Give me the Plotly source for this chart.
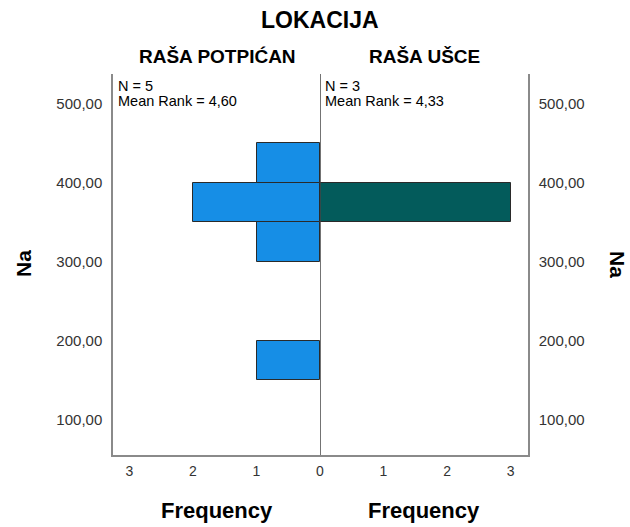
import plotly.graph_objects as go

# ---- data ----
title_text = "LOKACIJA"
group_names = ["RAŠA POTPIĆAN", "RAŠA UŠCE"]
group_n = [5, 3]
group_mean_rank = ["4,60", "4,33"]

bin_centers_potpican = [175, 325, 375, 425]
freq_potpican = [1, 1, 2, 1]
bin_centers_usce = [375]
freq_usce = [3]
bin_width = 50

y_tickvals = [100, 200, 300, 400, 500]
y_ticktext = ["100,00", "200,00", "300,00", "400,00", "500,00"]
x_tickvals_left = [0, 1, 2, 3]
x_ticktext_left = ["0", "1", "2", "3"]
x_tickvals_right = [1, 2, 3]
x_ticktext_right = ["1", "2", "3"]
y_title = "Na"
x_title = "Frequency"

FONT = "Liberation Sans, Arial, sans-serif"
COL_LEFT = "#168EE6"
COL_RIGHT = "#035B5B"
EDGE = "#2a2a2a"
AXCOL = "#8a8a8a"

fig = go.Figure()
fig.add_trace(go.Bar(
    x=freq_potpican, y=bin_centers_potpican, width=[bin_width] * len(freq_potpican),
    orientation="h", xaxis="x", yaxis="y",
    marker=dict(color=COL_LEFT, line=dict(color=EDGE, width=1)),
    showlegend=False, hoverinfo="skip"))
fig.add_trace(go.Bar(
    x=freq_usce, y=bin_centers_usce, width=[bin_width] * len(freq_usce),
    orientation="h", xaxis="x2", yaxis="y2",
    marker=dict(color=COL_RIGHT, line=dict(color=EDGE, width=1)),
    showlegend=False, hoverinfo="skip"))

yrange = [55, 537.5]
tickfont = dict(family=FONT, size=15, color="#333333")
xtickfont = dict(family=FONT, size=14, color="#333333")
d = 0.4988

fig.update_layout(
    width=630, height=527,
    margin=dict(l=113, r=102, t=74, b=72, pad=0),
    paper_bgcolor="white", plot_bgcolor="white",
    font=dict(family=FONT),
    bargap=0,
    xaxis=dict(domain=[0, d], range=[3.26, 0], tickvals=x_tickvals_left, ticktext=x_ticktext_left,
               showgrid=False, zeroline=False, showline=True, linecolor=AXCOL, linewidth=1.5,
               ticks="", ticklabelstandoff=2, tickfont=xtickfont, fixedrange=True),
    xaxis2=dict(domain=[d, 1], range=[0, 3.275], tickvals=x_tickvals_right, ticktext=x_ticktext_right,
                showgrid=False, zeroline=False, showline=True, linecolor=AXCOL, linewidth=1.5,
                ticks="", ticklabelstandoff=2, tickfont=xtickfont, anchor="y2", fixedrange=True),
    yaxis=dict(range=yrange, tickvals=y_tickvals, ticktext=y_ticktext, showgrid=False,
               zeroline=False, showline=True, linecolor=AXCOL, linewidth=1.5, ticks="",
               ticklabelstandoff=6, tickfont=tickfont, side="left", anchor="x"),
    yaxis2=dict(range=yrange, tickvals=y_tickvals, ticktext=y_ticktext, showgrid=False,
                zeroline=False, showline=True, linecolor=AXCOL, linewidth=1.5, ticks="",
                ticklabelstandoff=6, tickfont=tickfont, side="right", anchor="x2",
                matches="y"),
)

# center divider at frequency 0
fig.add_shape(type="line", xref="x2", yref="paper", x0=0, x1=0, y0=0, y1=1,
              line=dict(color="#444444", width=1.5))

ann = []
def P(px, py):
    return (px - 113) / 415, (455 - py) / 381

x, y = P(320, 20)
ann.append(dict(text="<b>%s</b>" % title_text, x=x, y=y, font=dict(size=23, color="black")))
for cx, name in zip([217, 424], group_names):
    x, y = P(cx, 57)
    ann.append(dict(text="<b>%s</b>" % name, x=x, y=y, font=dict(size=19, color="black")))
    x, y = P(cx, 510)
    ann.append(dict(text="<b>%s</b>" % x_title, x=x, y=y, font=dict(size=22, color="black")))
for lx, n, mr in zip([116, 323], group_n, group_mean_rank):
    x, y = P(lx, 86)
    ann.append(dict(text="N = %d" % n, x=x, y=y, xanchor="left",
                    font=dict(size=14.5, color="black")))
    x, y = P(lx, 101)
    ann.append(dict(text="Mean Rank = %s" % mr, x=x, y=y, xanchor="left",
                    font=dict(size=14.5, color="black")))
x, y = P(23, 264)
ann.append(dict(text="<b>%s</b>" % y_title, x=x, y=y, textangle=-90,
                font=dict(size=21, color="black")))
x, y = P(618, 264)
ann.append(dict(text="<b>%s</b>" % y_title, x=x, y=y, textangle=90,
                font=dict(size=21, color="black")))

for a in ann:
    a.setdefault("xanchor", "center")
    a.update(xref="paper", yref="paper", yanchor="middle", showarrow=False)
    a["font"]["family"] = FONT
fig.update_layout(annotations=ann)

fig.write_html(
    "out.html",
    config={"displayModeBar": False},
    post_script="document.body.style.margin='0';document.body.style.overflow='hidden';",
)
